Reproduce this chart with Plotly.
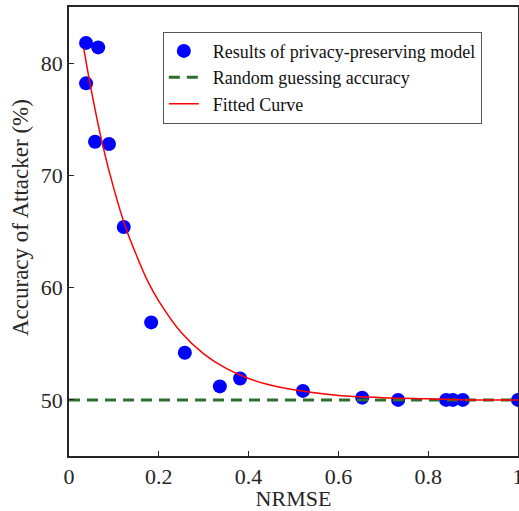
import plotly.graph_objects as go

# Measured results (NRMSE, attacker accuracy %)
nrmse = [0.038, 0.065, 0.038, 0.058, 0.089, 0.122, 0.183, 0.258, 0.336, 0.381,
         0.521, 0.653, 0.733, 0.840, 0.855, 0.877, 1.000]
accuracy = [81.8, 81.4, 78.2, 73.0, 72.8, 65.4, 56.9, 54.2, 51.2, 51.9,
            50.8, 50.2, 50.0, 50.0, 50.0, 50.0, 50.0]

# Fitted curve
fit_x = [0.033, 0.05, 0.075, 0.1, 0.125, 0.15, 0.175, 0.2, 0.25, 0.3, 0.35,
         0.4, 0.45, 0.5, 0.6, 0.7, 0.8, 0.9, 1.0]
fit_y = [81.3, 77.5, 72.7, 68.8, 65.5, 62.9, 60.6, 58.8, 56.0, 54.1, 52.8,
         51.9, 51.3, 50.9, 50.4, 50.2, 50.1, 50.0, 50.0]

# Random guessing baseline
guess_x = [0, 1]
guess_y = [50, 50]

x_ticks = [0, 0.2, 0.4, 0.6, 0.8, 1]
x_tick_text = ["0", "0.2", "0.4", "0.6", "0.8", "1"]
y_ticks = [50, 60, 70, 80]

FONT = "Liberation Serif"
AXC = "#262626"
PAD = "\u00a0\u00a0"

fig = go.Figure()
fig.add_trace(go.Scatter(
    x=nrmse, y=accuracy, mode="markers",
    name=PAD + "Results of privacy-preserving model",
    marker=dict(color="#0000ff", size=14), cliponaxis=False))
fig.add_trace(go.Scatter(
    x=guess_x, y=guess_y, mode="lines", name=PAD + "Random guessing accuracy",
    line=dict(color="#2f6e2f", width=3, dash="11px,7px")))
fig.add_trace(go.Scatter(
    x=fit_x, y=fit_y, mode="lines", name=PAD + "Fitted Curve",
    line=dict(color="#ff0000", width=1.5, shape="spline", smoothing=1.0)))

fig.update_layout(
    width=519, height=511,
    margin=dict(l=69, r=1, t=7, b=55),
    paper_bgcolor="white", plot_bgcolor="white",
    font=dict(family=FONT, color=AXC, size=22),
    showlegend=True,
    legend=dict(x=0.209, y=0.945, xanchor="left", yanchor="top",
                bgcolor="white", bordercolor="#555555", borderwidth=1,
                font=dict(family=FONT, size=18, color="#111111"),
                tracegroupgap=0, itemwidth=30),
    xaxis=dict(range=[0, 1], tickvals=x_ticks, ticktext=x_tick_text,
               ticks="inside", ticklen=5, tickcolor=AXC, showline=True,
               linecolor=AXC, linewidth=1.5, mirror=True, showgrid=False,
               zeroline=False, ticklabeloverflow="allow", automargin=False,
               title=dict(text="NRMSE", standoff=0, font=dict(size=22))),
    yaxis=dict(range=[45, 85], tickvals=y_ticks,
               ticks="inside", ticklen=5, tickcolor=AXC, showline=True,
               linecolor=AXC, linewidth=1.5, mirror=True, showgrid=False,
               zeroline=False, automargin=False),
    annotations=[dict(text="Accuracy of Attacker (%)", textangle=-90,
                      xref="paper", yref="paper", x=0, y=0.53,
                      xshift=-49, xanchor="center", yanchor="middle",
                      showarrow=False, font=dict(family=FONT, size=23, color=AXC))],
)

fig.write_html("out.html",
               config={"displayModeBar": False},
               post_script="document.body.style.margin='0';"
                           "document.body.style.overflow='hidden';")
